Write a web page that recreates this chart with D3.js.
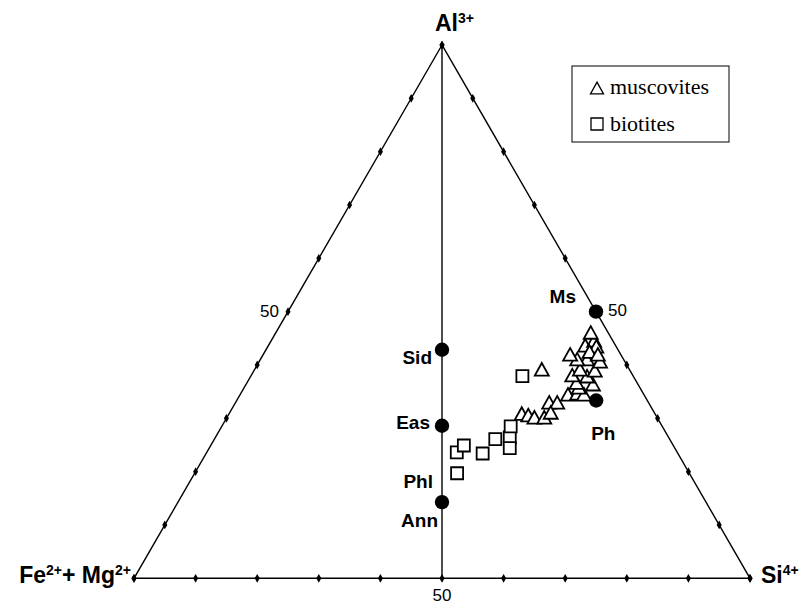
<!DOCTYPE html>
<meta charset="utf-8">
<style>
  html, body {
    margin: 0;
    padding: 0;
    background: #fff;
  }
  svg {
    display: block;
  }
  .edge {
    fill: none;
    stroke: #000;
    stroke-width: 1.4;
  }
  .tick {
    fill: #000;
  }
  .vlabel {
    font-family: "Liberation Sans", Arial, sans-serif;
    font-weight: bold;
    font-size: 23px;
  }
  .emlabel {
    font-family: "Liberation Sans", Arial, sans-serif;
    font-weight: bold;
    font-size: 19px;
  }
  .ticklabel {
    font-family: "Liberation Sans", Arial, sans-serif;
    font-size: 17px;
  }
  .legend text {
    font-family: "Liberation Serif", "Times New Roman", serif;
    font-size: 22px;
  }
  .marker {
    fill: #fff;
    stroke: #000;
    stroke-width: 1.8;
  }
</style>
<div id="chart"></div>

<script src="https://cdnjs.cloudflare.com/ajax/libs/d3/7.8.5/d3.min.js"></script>
<script>
// compositions in % : Al3+, Fe2+ + Mg2+, Si4+
var muscoviteAl = [39.2, 30.9, 30.6, 30.2, 30.2, 33.0, 33.0, 31.1, 34.5, 34.7,
                   34.5, 35.8, 36.7, 36.4, 38.1, 37.9, 39.2, 39.0, 41.1, 40.7,
                   41.1, 42.0, 43.7, 44.6, 43.5, 46.1, 42.5, 42.0];
var muscoviteSi = [46.6, 47.5, 48.7, 49.9, 51.5, 50.9, 52.2, 52.1, 53.2, 54.6,
                   55.8, 54.3, 53.5, 56.3, 52.1, 54.6, 52.8, 55.3, 53.0, 55.3,
                   51.4, 49.8, 51.4, 52.4, 53.3, 51.1, 52.7, 54.3];
var muscoviteFM = [14.2, 21.6, 20.7, 19.9, 18.3, 16.1, 14.8, 16.8, 12.3, 10.7,
                   9.7, 9.9, 9.8, 7.3, 9.8, 7.5, 8.0, 5.7, 5.9, 4.0,
                   7.5, 8.2, 4.9, 3.0, 3.2, 2.8, 4.8, 3.7];

var biotiteAl = [23.6, 24.9, 19.7, 23.4, 26.1, 26.4, 28.5, 24.4, 37.9];
var biotiteSi = [40.6, 41.1, 42.6, 44.9, 45.6, 47.8, 46.9, 48.8, 44.1];
var biotiteFM = [35.8, 34.0, 37.7, 31.7, 28.3, 25.8, 24.6, 26.8, 18.0];

// ideal end-members
var endNames = ["Ms", "Ph", "Sid", "Eas", "Ann"];
var endAl = [50, 33.3, 42.9, 28.6, 14.3];
var endFM = [0, 8.3, 28.6, 35.7, 42.9];
var endSi = [50, 58.3, 28.6, 35.7, 42.9];

var tickSteps = [0, 10, 20, 30, 40, 50, 60, 70, 80, 90, 100];
var legendItems = ["muscovites", "biotites"];

var width = 803, height = 602;

var svg = d3.select("#chart").append("svg")
  .attr("width", width)
  .attr("height", height);

// x: Si + Al/2, y: Al
var xs = d3.scaleLinear().domain([0, 100]).range([134, 750]);
var ys = d3.scaleLinear().domain([0, 100]).range([578.3, 45]);

function proj(al, fm, si) {
  var t = al + fm + si;
  al = al / t * 100; si = si / t * 100;
  return [xs(si + al / 2), ys(al)];
}

var apex = proj(100, 0, 0), left = proj(0, 100, 0), right = proj(0, 0, 100);

svg.append("path")
  .attr("class", "edge")
  .attr("d", d3.line()([apex, left, right, apex]) + "Z");

// 50 % join from Al apex to base
svg.append("path")
  .attr("class", "edge")
  .attr("d", d3.line()([apex, proj(0, 50, 50)]));

// tick dots along the three edges
var ticks = [];
tickSteps.forEach(function(v) {
  ticks.push(proj(v, 100 - v, 0));
  ticks.push(proj(v, 0, 100 - v));
  ticks.push(proj(0, v, 100 - v));
});
svg.append("g").selectAll("path")
  .data(ticks)
  .enter().append("path")
    .attr("class", "tick")
    .attr("transform", function(d) { return "translate(" + d + ")"; })
    .attr("d", d3.symbol(d3.symbolDiamond, 22));

// tick labels
var tl = svg.append("g").attr("class", "ticklabel");
var p;
p = proj(50, 50, 0);
tl.append("text").attr("x", p[0] - 9).attr("y", p[1] + 5).attr("text-anchor", "end").text("50");
p = proj(50, 0, 50);
tl.append("text").attr("x", p[0] + 12).attr("y", p[1] + 4).text("50");
p = proj(0, 50, 50);
tl.append("text").attr("x", p[0]).attr("y", p[1] + 23).attr("text-anchor", "middle").text("50");

// end-member dots
svg.append("g").selectAll("circle")
  .data(endNames)
  .enter().append("circle")
    .attr("cx", function(d, i) { return proj(endAl[i], endFM[i], endSi[i])[0]; })
    .attr("cy", function(d, i) { return proj(endAl[i], endFM[i], endSi[i])[1]; })
    .attr("r", 7.2)
    .attr("fill", "#000");

// end-member labels (Phl shares the Ann dot)
var emLabels = [
  {name: "Ms", at: 0, dx: -20, dy: -9, anchor: "end"},
  {name: "Ph", at: 1, dx: -5, dy: 39, anchor: "start"},
  {name: "Sid", at: 2, dx: -10, dy: 14, anchor: "end"},
  {name: "Eas", at: 3, dx: -12, dy: 3, anchor: "end"},
  {name: "Phl", at: 4, dx: -9, dy: -14, anchor: "end"},
  {name: "Ann", at: 4, dx: -4, dy: 25, anchor: "end"}
];
svg.append("g").attr("class", "emlabel").selectAll("text")
  .data(emLabels)
  .enter().append("text")
    .attr("x", function(d) { return proj(endAl[d.at], endFM[d.at], endSi[d.at])[0] + d.dx; })
    .attr("y", function(d) { return proj(endAl[d.at], endFM[d.at], endSi[d.at])[1] + d.dy; })
    .attr("text-anchor", function(d) { return d.anchor; })
    .text(function(d) { return d.name; });

// marker shapes
function triPath(s) {
  var h = s * 0.9;
  return "M0," + (-h / 2) + "L" + (s / 2) + "," + (h / 2) + "L" + (-s / 2) + "," + (h / 2) + "Z";
}
function sqPath(s) {
  return "M" + (-s / 2) + "," + (-s / 2) + "h" + s + "v" + s + "h" + (-s) + "Z";
}

svg.append("g").selectAll("path")
  .data(biotiteAl)
  .enter().append("path")
    .attr("class", "marker")
    .attr("transform", function(d, i) { return "translate(" + proj(d, biotiteFM[i], biotiteSi[i]) + ")"; })
    .attr("d", sqPath(12));

svg.append("g").selectAll("path")
  .data(muscoviteAl)
  .enter().append("path")
    .attr("class", "marker")
    .attr("transform", function(d, i) { return "translate(" + proj(d, muscoviteFM[i], muscoviteSi[i]) + ")"; })
    .attr("d", triPath(14));

// vertex labels
var vl = svg.append("g").attr("class", "vlabel");
var t = vl.append("text").attr("x", apex[0] - 7).attr("y", 31);
t.append("tspan").text("Al");
t.append("tspan").attr("font-size", 14).attr("dy", -8).text("3+");

t = vl.append("text").attr("x", left[0] - 3).attr("y", 583).attr("text-anchor", "end");
t.append("tspan").text("Fe");
t.append("tspan").attr("font-size", 14).attr("dy", -8).text("2+");
t.append("tspan").attr("dy", 8).text("+ Mg");
t.append("tspan").attr("font-size", 14).attr("dy", -8).text("2+");

t = vl.append("text").attr("x", right[0] + 11).attr("y", 583);
t.append("tspan").text("Si");
t.append("tspan").attr("font-size", 14).attr("dy", -8).text("4+");

// legend
var lg = svg.append("g").attr("class", "legend").attr("transform", "translate(572,66)");
lg.append("rect")
  .attr("width", 157).attr("height", 76)
  .attr("fill", "#fff").attr("stroke", "#000").attr("stroke-width", 1);
lg.selectAll("path")
  .data(legendItems)
  .enter().append("path")
    .attr("fill", "none").attr("stroke", "#000").attr("stroke-width", 1.3)
    .attr("transform", function(d, i) { return "translate(" + 25 + "," + (i ? 58 : 22) + ")"; })
    .attr("d", function(d, i) { return i ? sqPath(12) : triPath(13); });
lg.selectAll("text")
  .data(legendItems)
  .enter().append("text")
    .attr("x", 38)
    .attr("y", function(d, i) { return i ? 65 : 28; })
    .text(function(d) { return d; });
</script>
